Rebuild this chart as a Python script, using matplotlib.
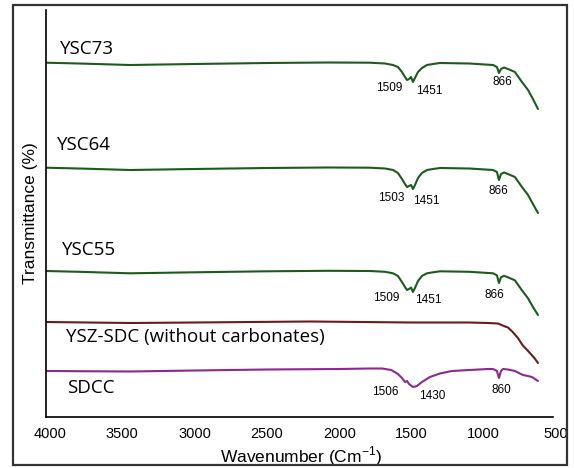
import numpy as np
import matplotlib
matplotlib.use("Agg")
import matplotlib.pyplot as plt
from matplotlib.patches import Rectangle

# wavenumber grids (cm-1) and transmittance (arbitrary, stacked)
wn_ysc = [4028, 3800, 3447, 3000, 2500, 2080, 1787, 1683, 1628, 1594, 1566, 1545,
          1531, 1517, 1503, 1490, 1476, 1455, 1428, 1393, 1351, 1303, 1100, 936,
          909, 895, 881, 860, 833, 785, 736, 694, 660, 625]
t_ysc73 = [354.3, 353.5, 352, 353, 354, 354.5, 354.3, 353.5, 352, 350, 345, 340,
           337, 338, 340, 335, 339, 345, 349, 352, 353, 354, 353.5, 352,
           350, 344, 348, 349.5, 348, 345, 335, 327, 318, 308]
t_ysc64 = [249.3, 248.5, 247, 248, 249, 249.5, 249.3, 248.5, 247, 244, 238, 233,
           230, 231, 232, 228, 232, 239, 244, 247, 248, 249, 248.5, 247,
           245, 237, 243, 244.5, 243, 240, 230, 222, 213, 204]
t_ysc55 = [146, 145.2, 143.7, 144.7, 145.7, 146.2, 146, 145.2, 143.7, 141, 135, 130,
           127, 128, 129.5, 125, 129, 136, 141, 143.7, 144.7, 145.7, 145.2, 143.7,
           141.7, 134, 139.7, 141.2, 139.7, 136.7, 126.7, 118.7, 110, 102]

wn_ysz = [4028, 3447, 3000, 2200, 1500, 1100, 971, 902, 861, 833, 800, 764,
          730, 700, 681, 650, 625]
t_ysz = [95, 94, 94.5, 95.5, 94.5, 94.5, 94, 93.5, 91, 89.5, 85, 79,
         71.5, 67, 64, 59, 54]

wn_sdcc = [4028, 3447, 3000, 2500, 2000, 1787, 1704, 1640, 1594, 1566, 1545, 1531,
           1517, 1490, 1462, 1428, 1372, 1303, 1220, 1100, 971, 936, 909, 895,
           881, 867, 833, 785, 729, 694, 667, 625]
t_sdcc = [46, 45.5, 46.5, 47.5, 48, 48.5, 48.5, 47, 43, 39, 35, 36,
          33, 30, 31, 35, 40, 43.5, 46, 47, 48, 48, 46, 39,
          46, 48, 47.5, 46, 42, 41, 40, 36]

names = ["YSC73", "YSC64", "YSC55", "YSZ-SDC (without carbonates)", "SDCC"]
colors = ["#1d5a1d", "#1d5a1d", "#1d5a1d", "#6a1c1c", "#8a2a8a"]
name_pos = [(3931, 368), (3952, 272), (3917, 167), (3889, 80), (3882, 29)]

peak_text = [["1509", "1451", "866"], ["1503", "1451", "866"],
             ["1509", "1451", "866"], ["1506", "1430", "860"]]
peak_pos = [[(1656, 329), (1379, 326), (874, 335)],
            [(1642, 219), (1400, 216), (902, 226)],
            [(1676, 119), (1386, 117), (926, 122)],
            [(1683, 25), (1354, 21), (881, 27)]]

fig = plt.figure(figsize=(5.74, 4.68), dpi=100)
ax = fig.add_axes([46 / 574, 51 / 468, 510.8 / 574, 407 / 468])

series = [(wn_ysc, t_ysc73), (wn_ysc, t_ysc64), (wn_ysc, t_ysc55),
          (wn_ysz, t_ysz), (wn_sdcc, t_sdcc)]
for (x, y), c in zip(series, colors):
    ax.plot(x, y, color=c, lw=1.5, solid_joinstyle="round", solid_capstyle="round")

for n, (px, py) in zip(names, name_pos):
    ax.text(px, py, n, fontsize=13.5, family="Open Sans", va="center", ha="left")

for texts, poss in zip(peak_text, peak_pos):
    for t, (px, py) in zip(texts, poss):
        ax.text(px, py, t, fontsize=8.5, family="Liberation Sans", ha="center", va="center")

ax.set_xlim(4028, 495)
ax.set_ylim(0, 407)
ax.set_xticks([4000, 3500, 3000, 2500, 2000, 1500, 1000, 500])
ax.tick_params(axis="x", length=0, pad=7, labelsize=10.5)
ax.set_yticks([])
for lab in ax.get_xticklabels():
    lab.set_family("Liberation Sans")
ax.spines["top"].set_visible(False)
ax.spines["right"].set_visible(False)
ax.spines["bottom"].set_bounds(4028, 521)
ax.spines["left"].set_linewidth(1.2)
ax.spines["bottom"].set_linewidth(1.2)

ax.set_xlabel(r"Wavenumber (Cm$^{\mathregular{-1}}$)", fontsize=12.5,
              family="Liberation Sans", labelpad=3)
ax.set_ylabel("Transmittance (%)", fontsize=12.5, family="Liberation Sans", labelpad=6)

fig.patches.append(Rectangle((12.5 / 574, 3 / 468), 554 / 574, 460 / 468,
                             transform=fig.transFigure, fill=False,
                             edgecolor="#333333", lw=1.6))

fig.savefig("out.png", dpi=100)
